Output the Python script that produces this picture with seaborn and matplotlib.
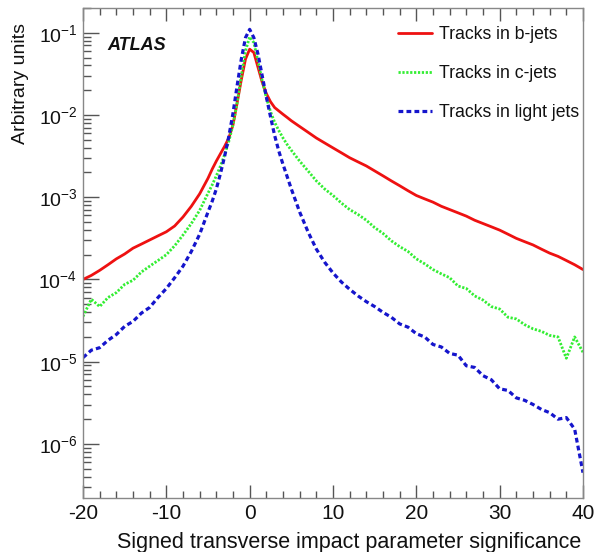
import matplotlib
matplotlib.use("Agg")
import matplotlib.pyplot as plt
import matplotlib.ticker as mticker
import numpy as np
import pandas as pd
import seaborn as sns

# ---- data ----
x_values = [-20, -19, -18, -17, -16, -15, -14, -13, -12, -11, -10, -9, -8, -7, -6, -5,
            -4.5, -4, -3.5, -3, -2.5, -2, -1.5, -1, -0.5, 0, 0.5, 1, 1.5, 2, 2.5, 3, 3.5, 4, 4.5,
            5, 6, 7, 8, 9, 10, 11, 12, 13, 14, 15, 16, 17, 18, 19, 20, 21, 22, 23, 24, 25,
            26, 27, 28, 29, 30, 31, 32, 33, 34, 35, 36, 37, 38, 39, 40]

b_jets = [1.00e-4, 1.12e-4, 1.29e-4, 1.51e-4, 1.78e-4, 2.04e-4, 2.40e-4, 2.69e-4, 3.02e-4, 3.39e-4,
          3.80e-4, 4.47e-4, 5.75e-4, 7.76e-4, 1.10e-3, 1.70e-3,
          2.19e-3, 2.75e-3, 3.39e-3, 4.17e-3, 5.25e-3, 7.59e-3, 1.41e-2, 2.69e-2, 4.79e-2, 6.31e-2,
          5.75e-2, 3.80e-2, 2.51e-2, 1.82e-2, 1.45e-2, 1.23e-2, 1.12e-2, 1.02e-2, 9.33e-3,
          8.51e-3, 7.24e-3, 6.17e-3, 5.25e-3, 4.57e-3, 3.98e-3, 3.47e-3, 3.02e-3, 2.69e-3, 2.40e-3,
          2.09e-3, 1.82e-3, 1.58e-3, 1.38e-3, 1.20e-3, 1.05e-3, 9.55e-4, 8.71e-4, 7.76e-4, 7.08e-4,
          6.46e-4, 5.89e-4, 5.25e-4, 4.79e-4, 4.37e-4, 3.98e-4, 3.55e-4, 3.16e-4, 2.88e-4, 2.63e-4,
          2.34e-4, 2.09e-4, 1.91e-4, 1.70e-4, 1.51e-4, 1.32e-4]

c_jets = [3.55e-5, 5.75e-5, 4.68e-5, 6.03e-5, 6.92e-5, 8.71e-5, 9.77e-5, 1.23e-4, 1.45e-4, 1.70e-4,
          2.00e-4, 2.57e-4, 3.47e-4, 4.79e-4, 6.92e-4, 1.12e-3,
          1.41e-3, 1.82e-3, 2.40e-3, 3.31e-3, 4.79e-3, 7.59e-3, 1.41e-2, 3.02e-2, 6.03e-2, 8.91e-2,
          7.59e-2, 4.47e-2, 2.63e-2, 1.62e-2, 1.10e-2, 8.13e-3, 6.46e-3, 5.25e-3, 4.37e-3,
          3.72e-3, 2.75e-3, 2.09e-3, 1.58e-3, 1.26e-3, 1.05e-3, 8.51e-4, 7.08e-4, 6.17e-4, 5.25e-4,
          4.27e-4, 3.63e-4, 2.95e-4, 2.51e-4, 2.19e-4, 1.78e-4, 1.55e-4, 1.32e-4, 1.17e-4, 1.05e-4,
          8.32e-5, 7.76e-5, 6.31e-5, 5.62e-5, 4.68e-5, 4.37e-5, 3.47e-5, 3.31e-5, 2.82e-5, 2.51e-5,
          2.34e-5, 2.09e-5, 2.00e-5, 1.10e-5, 2.00e-5, 1.30e-5]

light_jets = [1.12e-5, 1.38e-5, 1.48e-5, 1.82e-5, 2.14e-5, 2.69e-5, 3.09e-5, 3.89e-5, 4.57e-5, 6.03e-5,
              7.76e-5, 1.05e-4, 1.45e-4, 2.19e-4, 3.55e-4, 6.61e-4,
              8.91e-4, 1.26e-3, 1.95e-3, 3.16e-3, 5.50e-3, 1.05e-2, 2.29e-2, 4.79e-2, 8.71e-2, 1.10e-1,
              8.71e-2, 5.50e-2, 3.02e-2, 1.66e-2, 9.55e-3, 5.62e-3, 3.63e-3, 2.51e-3, 1.78e-3,
              1.26e-3, 6.61e-4, 3.80e-4, 2.34e-4, 1.62e-4, 1.20e-4, 9.33e-5, 7.59e-5, 6.31e-5, 5.37e-5,
              4.68e-5, 3.98e-5, 3.47e-5, 2.88e-5, 2.63e-5, 2.19e-5, 2.00e-5, 1.62e-5, 1.51e-5, 1.26e-5,
              1.20e-5, 8.91e-6, 8.51e-6, 6.76e-6, 6.03e-6, 4.68e-6, 4.47e-6, 3.63e-6, 3.39e-6, 3.02e-6,
              2.63e-6, 2.40e-6, 2.00e-6, 2.09e-6, 1.51e-6, 4.47e-7]

series_labels = ["Tracks in b-jets", "Tracks in c-jets", "Tracks in light jets"]
x_ticks = [-20, -10, 0, 10, 20, 30, 40]

# ---- styling ----
sns.set_style("ticks")
plt.rcParams["font.family"] = ["Liberation Sans", "DejaVu Sans"]
plt.rcParams["mathtext.fontset"] = "custom"
plt.rcParams["mathtext.rm"] = "Liberation Sans"
plt.rcParams["mathtext.it"] = "Liberation Sans:italic"
plt.rcParams["mathtext.bf"] = "Liberation Sans:bold"

fig = plt.figure(figsize=(5.95, 5.52), dpi=100)
ax = fig.add_axes([83 / 595, 1 - 498 / 552, 500 / 595, 490 / 552])

df = pd.DataFrame({"x": x_values, "b": b_jets, "c": c_jets, "l": light_jets})

sns.lineplot(data=df, x="x", y="b", ax=ax, color="#ee1111", lw=2.0,
             label=series_labels[0], estimator=None, sort=False)
sns.lineplot(data=df, x="x", y="c", ax=ax, color="#33ee33", lw=2.0,
             linestyle=(0, (0.8, 0.6)), label=series_labels[1], estimator=None, sort=False)
sns.lineplot(data=df, x="x", y="l", ax=ax, color="#1515cc", lw=2.3,
             linestyle=(0, (1.5, 1.0)), label=series_labels[2], estimator=None, sort=False)

ax.set_yscale("log")
ax.set_xlim(-20, 40)
ax.set_ylim(2.2e-7, 0.2)

ax.set_xticks(x_ticks)
ax.set_xticklabels([str(t) for t in x_ticks])
ax.xaxis.set_minor_locator(mticker.MultipleLocator(2))
ax.yaxis.set_major_locator(mticker.LogLocator(base=10, numticks=20))
ax.yaxis.set_minor_locator(mticker.LogLocator(base=10, subs=np.arange(2, 10), numticks=20))
ax.yaxis.set_minor_formatter(mticker.NullFormatter())

ax.tick_params(axis="both", which="both", direction="in", colors="#555555",
               labelcolor="#111111")
ax.tick_params(axis="x", which="both", top=True, bottom=True, labelsize=15)
ax.tick_params(axis="y", which="both", left=True, right=False, labelsize=14)
ax.tick_params(axis="x", which="major", length=9.5, width=1, pad=4)
ax.tick_params(axis="x", which="minor", length=5, width=1)
ax.tick_params(axis="y", which="major", length=11.5, width=1, pad=4)
ax.tick_params(axis="y", which="minor", length=6, width=1)

for s in ax.spines.values():
    s.set_color("#888888")
    s.set_linewidth(1.0)

ax.set_xlabel("Signed transverse impact parameter significance", fontsize=15.5,
              color="#111111", ha="right")
ax.set_ylabel("Arbitrary units", fontsize=14, color="#111111")
ax.xaxis.set_label_coords(0.996, -0.069)
ax.yaxis.set_label_coords(-0.107, 0.846)

ax.text(107 / 595, 1 - 45 / 552, "ATLAS", transform=fig.transFigure, fontsize=13,
        fontweight="bold", fontstyle="italic", va="center", ha="left", color="#111111")

leg = ax.legend(loc="upper left", bbox_to_anchor=(398 / 595, 1 - 26 / 552),
                bbox_transform=fig.transFigure, frameon=False, fontsize=12.7,
                borderpad=0, borderaxespad=0, labelspacing=1.25, handlelength=1.95,
                handletextpad=0.35)
for t in leg.get_texts():
    t.set_color("#111111")

fig.savefig("out.png", dpi=100)
